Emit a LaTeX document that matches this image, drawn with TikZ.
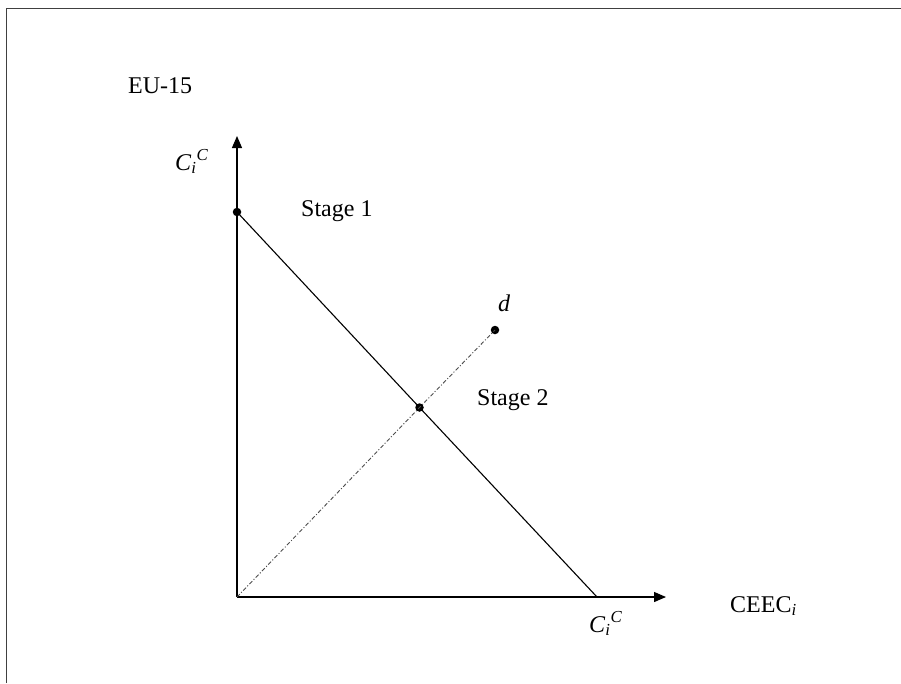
\documentclass[tikz,border=0pt]{standalone}
\usepackage{fontspec}
\setmainfont{Liberation Serif}
\usetikzlibrary{arrows.meta}
\newcommand{\cic}{\textit{C}\textsubscript{\textit{i}}\textsuperscript{\textit{C}}}
\begin{document}
\begin{tikzpicture}[x=1pt,y=-1pt,
  axis/.style={line width=1.3pt,-{Triangle[length=12pt,width=10pt]}},
  budget/.style={line width=1.1pt},
  diag/.style={line width=0.9pt,black!70,dash pattern=on 4pt off 2pt on 1pt off 2pt},
  dotpt/.style={circle,fill,inner sep=0pt,minimum size=8.5pt},
  lbl/.style={anchor=base west,inner sep=0pt,font=\fontsize{24}{28}\selectfont}]
\useasboundingbox (0,0) rectangle (901,683);
\draw[line width=1.6pt,black!75] (6.5,683) -- (6.5,8.5) -- (901,8.5);
\coordinate (O) at (237,597);
\coordinate (Yt) at (237,136);
\coordinate (Xt) at (666,597);
\coordinate (B) at (597,597);
\node[dotpt] (A) at (237,212) {};
\node[dotpt] (D) at (495,330) {};
\node[dotpt] (M) at (419.5,407.5) {};
\draw[axis] (O) -- (Yt);
\draw[axis] (O) -- (Xt);
\draw[budget] (A.center) -- (M.center) -- (B);
\draw[diag] (O) -- (M.center) -- (D.center);
\node[lbl] (eu) at (128,93) {EU-15};
\node[lbl] (cy) at (175,170) {\cic};
\node[lbl] (s1) at (301,216) {Stage 1};
\node[lbl] (dl) at (498,311) {\textit{d}};
\node[lbl] (s2) at (477,405) {Stage 2};
\node[lbl] (cx) at (589,632) {\cic};
\node[lbl] (ce) at (730,612) {CEEC\textsubscript{\textit{i}}};
\end{tikzpicture}
\end{document}
